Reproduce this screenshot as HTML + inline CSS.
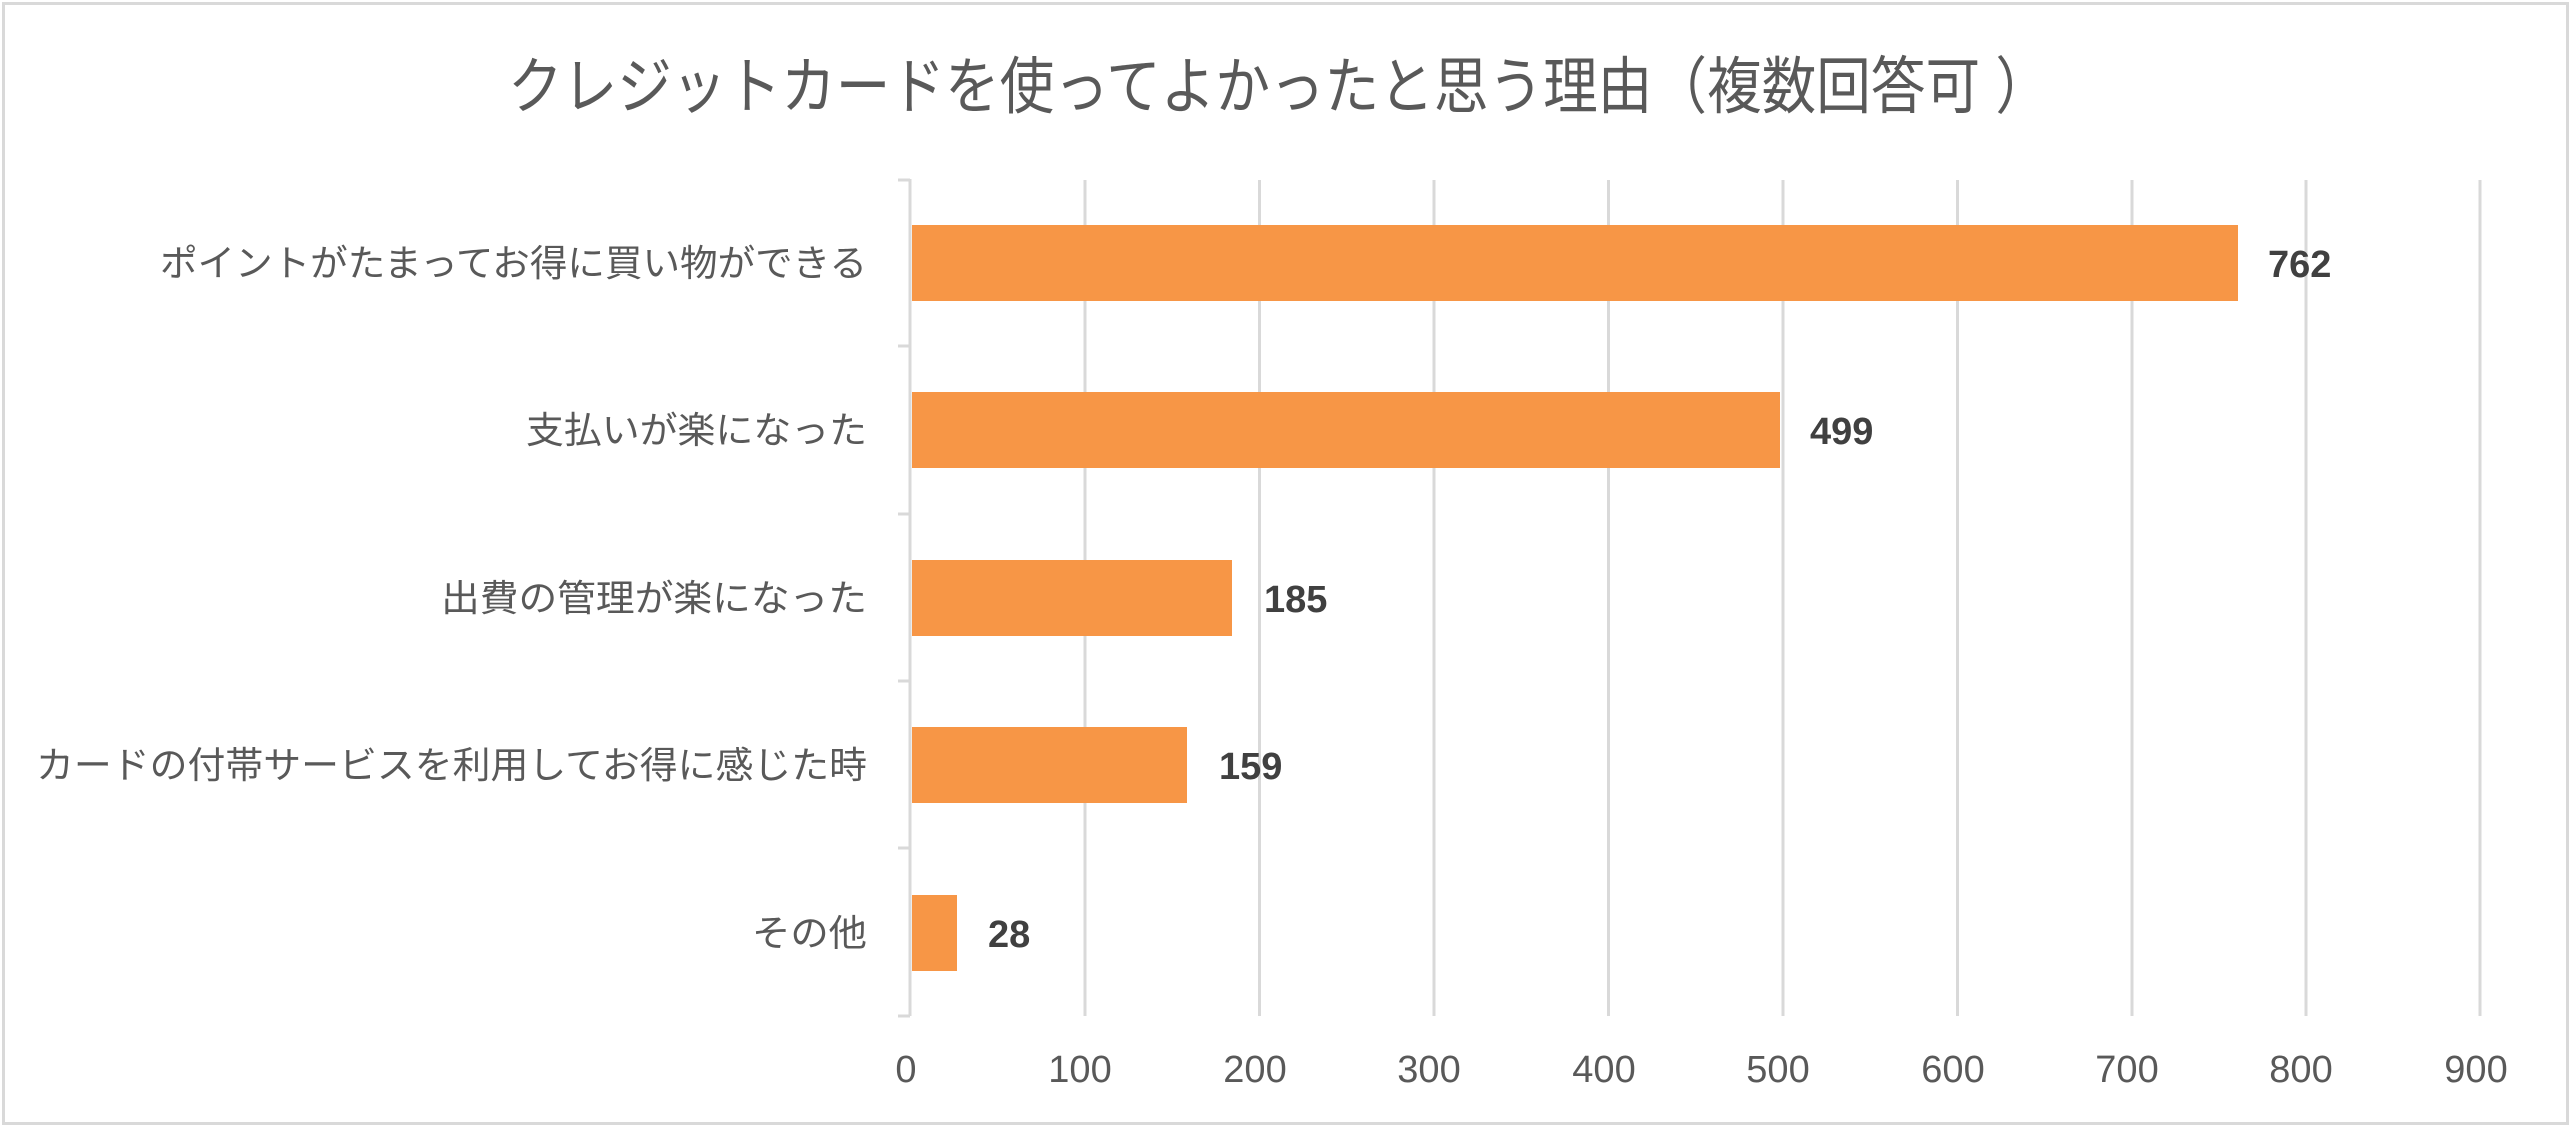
<!DOCTYPE html>
<html><head><meta charset="utf-8"><style>html,body{margin:0;padding:0;background:#fff}</style></head>
<body>
<svg width="2575" height="1132" xmlns="http://www.w3.org/2000/svg" font-family="'Liberation Sans','Noto Sans CJK JP',sans-serif">
<rect x="0" y="0" width="2575" height="1132" fill="#fff"/>
<rect x="3.5" y="3.5" width="2564" height="1120" fill="none" stroke="#d9d9d9" stroke-width="3"/>
<text x="508" y="108" font-size="62" fill="#595959" textLength="1542" lengthAdjust="spacingAndGlyphs">クレジットカードを使ってよかったと思う理由（複数回答可 ）</text>
<g stroke="#d9d9d9" stroke-width="3">
<line x1="1085" y1="180" x2="1085" y2="1016"/>
<line x1="1259.5" y1="180" x2="1259.5" y2="1016"/>
<line x1="1434" y1="180" x2="1434" y2="1016"/>
<line x1="1608.5" y1="180" x2="1608.5" y2="1016"/>
<line x1="1783" y1="180" x2="1783" y2="1016"/>
<line x1="1957.5" y1="180" x2="1957.5" y2="1016"/>
<line x1="2132" y1="180" x2="2132" y2="1016"/>
<line x1="2306" y1="180" x2="2306" y2="1016"/>
<line x1="2480" y1="180" x2="2480" y2="1016"/>
<line x1="910" y1="179" x2="910" y2="1016"/>
<line x1="898" y1="180" x2="910" y2="180"/>
<line x1="898" y1="346" x2="910" y2="346"/>
<line x1="898" y1="514" x2="910" y2="514"/>
<line x1="898" y1="681" x2="910" y2="681"/>
<line x1="898" y1="848" x2="910" y2="848"/>
<line x1="898" y1="1016" x2="910" y2="1016"/>
</g>
<g fill="#f79646">
<rect x="912" y="225" width="1326" height="76"/>
<rect x="912" y="392" width="868" height="76"/>
<rect x="912" y="560" width="320" height="76"/>
<rect x="912" y="727" width="275" height="76"/>
<rect x="912" y="895" width="45" height="76"/>
</g>
<g font-size="38" font-weight="bold" fill="#404040">
<text x="2268" y="277">762</text>
<text x="1810" y="444">499</text>
<text x="1264" y="612">185</text>
<text x="1219" y="779">159</text>
<text x="988" y="947">28</text>
</g>
<g font-size="37" fill="#595959">
<text x="160" y="276" textLength="707" lengthAdjust="spacingAndGlyphs">ポイントがたまってお得に買い物ができる</text>
<text x="526" y="443" textLength="341" lengthAdjust="spacingAndGlyphs">支払いが楽になった</text>
<text x="441" y="611" textLength="426" lengthAdjust="spacingAndGlyphs">出費の管理が楽になった</text>
<text x="36" y="778" textLength="831" lengthAdjust="spacingAndGlyphs">カードの付帯サービスを利用してお得に感じた時</text>
<text x="752" y="946" textLength="115" lengthAdjust="spacingAndGlyphs">その他</text>
</g>
<g font-size="38" fill="#595959" text-anchor="middle">
<text x="906" y="1082">0</text>
<text x="1080" y="1082">100</text>
<text x="1255" y="1082">200</text>
<text x="1429" y="1082">300</text>
<text x="1604" y="1082">400</text>
<text x="1778" y="1082">500</text>
<text x="1953" y="1082">600</text>
<text x="2127" y="1082">700</text>
<text x="2301" y="1082">800</text>
<text x="2476" y="1082">900</text>
</g>
</svg>
</body></html>
